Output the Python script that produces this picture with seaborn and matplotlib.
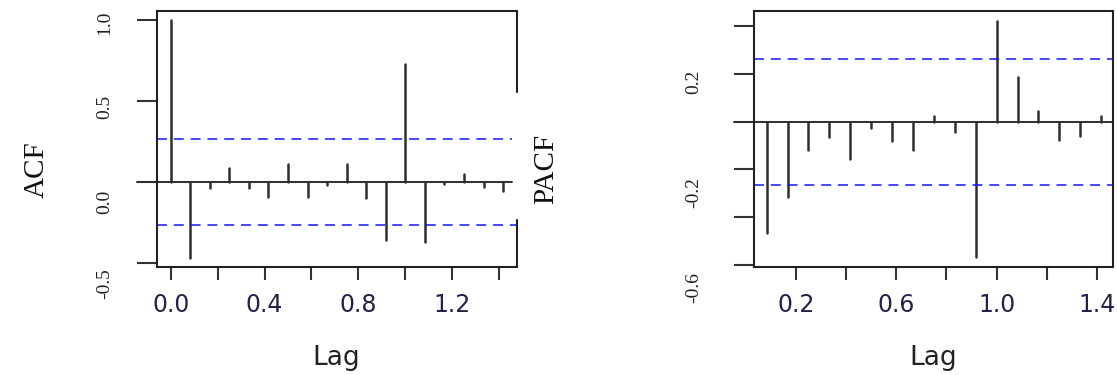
import numpy as np
import pandas as pd
import matplotlib
matplotlib.use("Agg")
import matplotlib.pyplot as plt
from matplotlib.transforms import ScaledTranslation
import seaborn as sns

# ACF / PACF values (monthly series, lag in years)
acf_lags = [k / 12 for k in range(0, 18)]
acf_vals = [1.0, -0.47, -0.04, 0.087, -0.04, -0.09, 0.114, -0.09, -0.02,
            0.114, -0.10, -0.356, 0.729, -0.373, -0.01, 0.052, -0.03, -0.058]
pacf_lags = [k / 12 for k in range(1, 18)]
pacf_vals = [-0.467, -0.318, -0.117, -0.064, -0.157, -0.025, -0.082, -0.117,
             0.026, -0.043, -0.568, 0.422, 0.186, 0.047, -0.078, -0.06, 0.026]
conf_bound = 0.265

acf_xticks = [0.0, 0.2, 0.4, 0.6, 0.8, 1.0, 1.2, 1.4]
acf_xlabels = ["0.0", "", "0.4", "", "0.8", "", "1.2", ""]
acf_yticks = [-0.5, 0.0, 0.5, 1.0]
acf_ylabels = ["-0.5", "0.0", "0.5", "1.0"]
pacf_xticks = [0.2, 0.4, 0.6, 0.8, 1.0, 1.2, 1.4]
pacf_xlabels = ["0.2", "", "0.6", "", "1.0", "", "1.4"]
pacf_yticks = [-0.6, -0.4, -0.2, 0.0, 0.2, 0.4]
pacf_ylabels = ["-0.6", "", "-0.2", "", "0.2", ""]

sns.set_style("ticks")
plt.rcParams["font.family"] = ["DejaVu Sans"]

stem_col = "#2e2e2e"
blue = "#1414ff"
tick_col = "#23234a"


def stems(lags, vals):
    # two rows per lag -> one vertical segment from 0 to the value
    return pd.DataFrame({"lag": np.repeat(lags, 2),
                         "value": np.ravel(np.column_stack([np.zeros(len(vals)), vals]))})


def style_axis(ax, xticks, xlabels, yticks, ylabels, ylab_offsets, ypad):
    for s in ax.spines.values():
        s.set_linewidth(1.5)
        s.set_color("#222222")
    ax.set_xticks(xticks)
    ax.set_xticklabels(xlabels, fontsize=17, color=tick_col)
    ax.set_yticks(yticks)
    ax.set_yticklabels(ylabels, fontsize=14, family="Liberation Serif",
                       rotation=90, va="center", color="#222222")
    ax.tick_params(axis="x", length=9.5, width=1.5, pad=9, color="#333333")
    ax.tick_params(axis="y", length=14.4, width=1.5, pad=ypad, color="#333333")
    fig = ax.figure
    for lab, dy in zip(ax.get_yticklabels(), ylab_offsets):
        lab.set_transform(lab.get_transform() +
                          ScaledTranslation(0, -dy / 100, fig.dpi_scale_trans))
    ax.set_xlabel("Lag", fontsize=19, color="#222222")
    ax.xaxis.label.set_va("center")
    ax.xaxis.set_label_coords(0.5, -0.355)


fig = plt.figure(figsize=(11.17, 3.75), dpi=100)
ax1 = fig.add_axes([0.1403, 0.288, 0.3221, 0.6827])
ax2 = fig.add_axes([0.6753, 0.288, 0.3209, 0.6827])

# ---- ACF panel
sns.lineplot(data=stems(acf_lags, acf_vals), x="lag", y="value", units="lag",
             estimator=None, color=stem_col, lw=1.8, ax=ax1)
ax1.axhline(0, xmin=-0.055, xmax=0.988, color=stem_col, lw=1.4, clip_on=False)
ax1.axhline(conf_bound, xmin=0, xmax=0.988, color=blue, lw=1.1, ls=(0, (6.5, 4.5)))
ax1.axhline(-conf_bound, xmin=0, xmax=1.0, color=blue, lw=1.1, ls=(0, (6.5, 4.5)))
ax1.set_xlim(-0.0597, 1.474)
ax1.set_ylim(-0.525, 1.056)
style_axis(ax1, acf_xticks, acf_xlabels, acf_yticks, acf_ylabels, [21, 20, 6, 3], 17)
ax1.set_ylabel("ACF", fontsize=21, family="Liberation Serif", color="#111111")
ax1.yaxis.label.set_va("center")
ax1.yaxis.set_label_coords(-0.3335, 0.379)
# right border of this panel is broken in the reference
ax1.spines["right"].set_visible(False)
ax1.axvline(1.474, ymin=0.684, ymax=1.0, color="#222222", lw=1.5, clip_on=False)
ax1.axvline(1.474, ymin=0.0, ymax=0.183, color="#222222", lw=1.5, clip_on=False)

# ---- PACF panel
sns.lineplot(data=stems(pacf_lags, pacf_vals), x="lag", y="value", units="lag",
             estimator=None, color=stem_col, lw=1.8, ax=ax2)
ax2.axhline(0, xmin=-0.057, xmax=1.0, color=stem_col, lw=1.4, clip_on=False)
ax2.axhline(conf_bound, color=blue, lw=1.1, ls=(0, (6.5, 4.5)))
ax2.axhline(-conf_bound, color=blue, lw=1.1, ls=(0, (6.5, 4.5)))
ax2.set_xlim(0.034, 1.463)
ax2.set_ylim(-0.610, 0.465)
style_axis(ax2, pacf_xticks, pacf_xlabels, pacf_yticks, pacf_ylabels,
           [23, 0, 23, 0, 8, 0], 23)
ax2.set_ylabel("PACF", fontsize=21, family="Liberation Serif", color="#111111")
ax2.yaxis.label.set_va("center")
ax2.yaxis.set_label_coords(-0.581, 0.383)

fig.savefig("out.png", dpi=100)
